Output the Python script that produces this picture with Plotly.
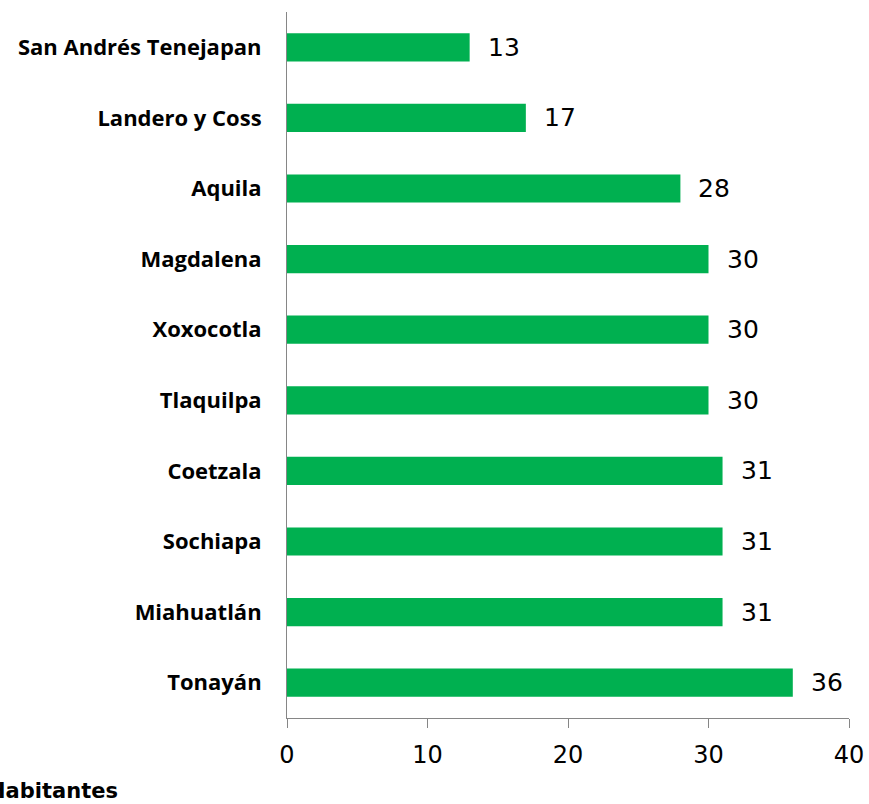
import plotly.graph_objects as go

# Municipalities and their population counts
municipios = [
    "San Andrés Tenejapan",
    "Landero y Coss",
    "Aquila",
    "Magdalena",
    "Xoxocotla",
    "Tlaquilpa",
    "Coetzala",
    "Sochiapa",
    "Miahuatlán",
    "Tonayán",
]
habitantes = [13, 17, 28, 30, 30, 30, 31, 31, 31, 36]
x_ticks = [0, 10, 20, 30, 40]
axis_title = "Habitantes"

BAR_COLOR = "#00B050"
AXIS_COLOR = "#868686"

fig = go.Figure(
    go.Bar(
        x=habitantes,
        y=municipios,
        orientation="h",
        marker=dict(color=BAR_COLOR, line=dict(width=0)),
        width=0.4,
        hoverinfo="x+y",
    )
)

# value labels to the right of each bar
for name, val in zip(municipios, habitantes):
    fig.add_annotation(
        x=val, y=name, xref="x", yref="y",
        text=str(val), showarrow=False,
        xanchor="left", yanchor="middle", xshift=16,
        font=dict(family="DejaVu Sans", size=25, color="#000000"),
    )

# axis caption at the lower left
fig.add_annotation(
    x=-0.298, y=-0.104, xref="paper", yref="paper",
    text="<b>" + axis_title + "</b>", showarrow=False,
    xanchor="right", yanchor="middle",
    font=dict(family="DejaVu Sans", size=21, color="#000000"),
)

fig.update_layout(
    width=869,
    height=804,
    margin=dict(l=287, r=20, t=12, b=86, autoexpand=False),
    paper_bgcolor="white",
    plot_bgcolor="white",
    showlegend=False,
    bargap=0.6,
)

fig.update_xaxes(
    range=[0, 40],
    tickvals=x_ticks,
    ticktext=[str(v) for v in x_ticks],
    automargin=False,
    ticklabeloverflow="allow",
    showgrid=False,
    zeroline=False,
    showline=True,
    linecolor=AXIS_COLOR,
    linewidth=1,
    ticks="outside",
    ticklen=9,
    tickcolor=AXIS_COLOR,
    ticklabelstandoff=6,
    tickfont=dict(family="DejaVu Sans", size=24, color="#000000"),
)

fig.update_yaxes(
    autorange="reversed",
    automargin=False,
    showgrid=False,
    zeroline=False,
    showline=True,
    linecolor=AXIS_COLOR,
    linewidth=1,
    ticks="",
    ticklabelstandoff=20,
    tickfont=dict(family="Open Sans", size=22, color="#000000", weight="bold"),
)

fig.write_html("out.html")
